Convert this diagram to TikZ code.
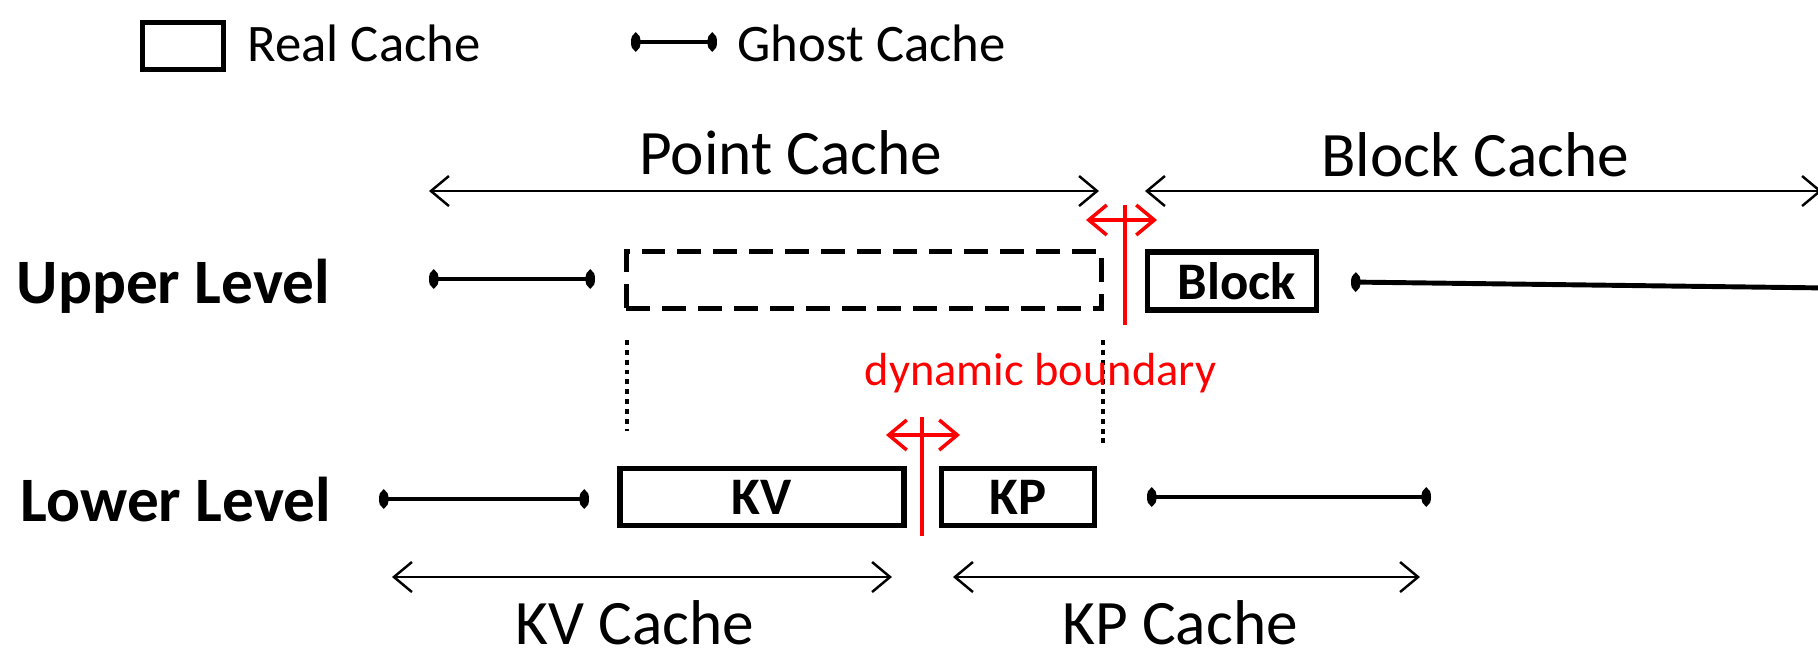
\documentclass[tikz,border=0pt]{standalone}
\usepackage{fontspec}
\setmainfont{Carlito}
\usetikzlibrary{arrows.meta}

\newcommand{\bigsize}{\fontsize{18pt}{21pt}\selectfont}
\newcommand{\midsize}{\fontsize{15pt}{18pt}\selectfont}
\newcommand{\smallsize}{\fontsize{13.2pt}{16pt}\selectfont}

\tikzset{
    gdot/.tip={Ellipse[length=2.7pt,width=5pt]},
    barb/.tip={Straight Barb[length=1.8mm,width=3mm]},
    ghost/.style={line width=1.4pt},
    realbox/.style={draw, line width=1.5pt, inner sep=0pt, font=\midsize\bfseries},
    extent/.style={line width=0.7pt, barb-barb},
    txt/.style={inner sep=0pt, font=\bigsize},
    level/.style={inner sep=0pt, font=\bigsize\bfseries},
    boundary/.style={red, line width=1.1pt},
}

\begin{document}
\begin{tikzpicture}[x=0.01cm, y=-0.01cm]
    \useasboundingbox (0,0) rectangle (1818,647);

    % Draw the legend
    \node[realbox, minimum width=0.81cm, minimum height=0.47cm] (legbox) at (183,46) {};
    \node[txt, font=\midsize, anchor=base west] (reallbl) at (247,61) {Real Cache};
    \coordinate (legl) at (631,42);
    \coordinate (legr) at (717,42);
    \draw[ghost, gdot-gdot] (legl) -- (legr);
    \node[txt, font=\midsize, anchor=base west] (ghostlbl) at (737,61) {Ghost Cache};

    % Level names
    \node[level, anchor=base west] (upper) at (16,303) {Upper Level};
    \node[level, anchor=base west] (lower) at (20,521) {Lower Level};

    % Real caches of both levels
    \node[draw, line width=1.6pt, dash pattern=on 6.8pt off 3.4pt,
          minimum width=4.75cm, minimum height=0.57cm] (ptbox) at (864,280) {};
    \node[realbox, minimum width=1.69cm, minimum height=0.58cm] (block) at (1232,281) {\hspace{0.1cm}Block};
    \node[realbox, minimum width=2.84cm, minimum height=0.57cm] (kv) at (762,497) {KV};
    \node[realbox, minimum width=1.53cm, minimum height=0.57cm] (kp) at (1018,497) {KP};

    % Ghost caches, the last one runs off the right edge
    \foreach \xa/\ya/\xb/\yb [count=\i] in {429/279/595/279, 379/499/589/499, 1147/497/1431/497}
    {
        \coordinate (gl\i) at (\xa,\ya);
        \coordinate (gr\i) at (\xb,\yb);
        \draw[ghost, gdot-gdot] (gl\i) -- (gr\i);
    }
    \coordinate (blkl) at (1351,282);
    \coordinate (blkr) at (1830,288);
    \draw[ghost, gdot-] (blkl) -- (blkr);

    % Dotted guides below the point cache
    \coordinate (dotla) at (627,340);
    \coordinate (dotlb) at (627,431);
    \coordinate (dotra) at (1103,340);
    \coordinate (dotrb) at (1103,444);
    \draw[line width=1pt, dash pattern=on 1.4pt off 1.4pt] (dotla) -- (dotlb);
    \draw[line width=1pt, dash pattern=on 1.4pt off 1.4pt] (dotra) -- (dotrb);

    % Extent of every cache
    \foreach \xa/\xb/\y [count=\i] in {429/1099/191, 1145/1822/191, 392/892/577, 953/1420/577}
    {
        \coordinate (spanl\i) at (\xa,\y);
        \coordinate (spanr\i) at (\xb,\y);
        \draw[extent] (spanl\i) -- (spanr\i);
    }
    \node[txt, anchor=base] (ptcache) at (791,174) {Point Cache};
    \node[txt, anchor=base] (blkcache) at (1475,176) {Block Cache};
    \node[txt, anchor=base] (kvcache) at (635,644) {KV Cache};
    \node[txt, anchor=base] (kpcache) at (1180,644) {KP Cache};

    % The two movable boundaries
    \coordinate (ubt) at (1125,205);
    \coordinate (ubb) at (1125,325);
    \coordinate (ubl) at (1086,220);
    \coordinate (ubr) at (1157,220);
    \draw[boundary] (ubt) -- (ubb);
    \draw[boundary, line width=1pt, barb-barb] (ubl) -- (ubr);

    \coordinate (lbt) at (922,417);
    \coordinate (lbb) at (922,536);
    \coordinate (lbl) at (886,435);
    \coordinate (lbr) at (960,435);
    \draw[boundary] (lbt) -- (lbb);
    \draw[boundary, line width=1pt, barb-barb] (lbl) -- (lbr);

    \node[txt, font=\smallsize, text=red, anchor=base west] (dynlbl) at (864,385) {dynamic boundary};
\end{tikzpicture}
\end{document}
